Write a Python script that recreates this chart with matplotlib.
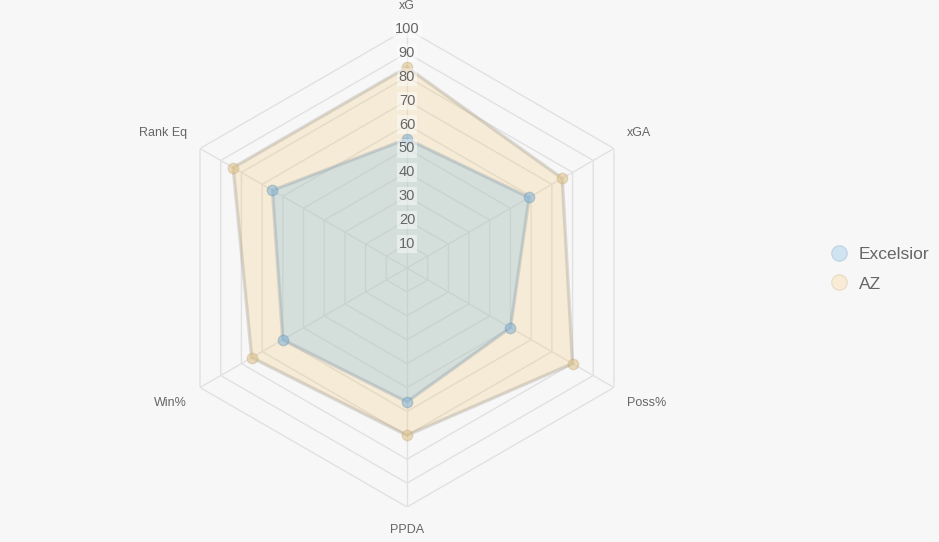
import numpy as np
import matplotlib.pyplot as plt
from matplotlib.lines import Line2D

plt.rcParams['font.family'] = ['Liberation Sans', 'DejaVu Sans']

categories = ['xG', 'xGA', 'Poss%', 'PPDA', 'Win%', 'Rank Eq']
excelsior = [54, 59, 50, 56, 60, 65]
az = [84, 75, 80, 70, 75, 84]
levels = [10, 20, 30, 40, 50, 60, 70, 80, 90, 100]

bg = '#f7f7f7'
grid_col = '#e1e1e1'
text_col = '#666666'

fig = plt.figure(figsize=(9.39, 5.42), dpi=100, facecolor=bg)
W, H = 939, 542
cx, cy, R = 407, 268, 239
ax = fig.add_axes([(cx - R) / W, (H - cy - R) / H, 2 * R / W, 2 * R / H],
                  projection='polar')
ax.set_facecolor('none')
ax.set_theta_offset(np.pi / 2)
ax.set_theta_direction(-1)
ax.set_ylim(0, 100)
ax.grid(False)
ax.spines['polar'].set_visible(False)
ax.set_xticks([])
ax.set_yticks([])

n = len(categories)
theta = np.linspace(0, 2 * np.pi, n, endpoint=False)
closed = np.append(theta, theta[0])

# hexagon grid and spokes
for lv in levels:
    ax.plot(closed, [lv] * (n + 1), color=grid_col, lw=1, zorder=1)
for t in theta:
    ax.plot([t, t], [0, 100], color=grid_col, lw=1, zorder=1)

# series
series = [
    ('AZ', az, (240/255, 200/255, 120/255, 0.25),
     (0.88, 0.76, 0.52, 0.55), (0.75, 0.65, 0.45, 0.35)),
    ('Excelsior', excelsior, (138/255, 198/255, 232/255, 0.30),
     (0.50, 0.70, 0.85, 0.55), (0.40, 0.55, 0.65, 0.35)),
]
for name, vals, fill, pt, pe in series:
    v = np.append(vals, vals[0])
    ax.fill(closed, v, color=fill, zorder=2)
    ax.plot(closed, v, color=(0.6, 0.6, 0.6, 0.3), lw=2.5, zorder=3)
    ax.plot(theta, vals, 'o', ms=7.5, mfc=pt, mec=pe, mew=1, zorder=4)

# tick labels
for lv in levels:
    ax.text(0, lv, str(lv), ha='center', va='center', fontsize=10.5,
            color=text_col, zorder=5,
            bbox=dict(boxstyle='square,pad=0.15', fc='white', ec='none', alpha=0.45))

# point labels
label_pos = [(0, 107, 'center', 'bottom'), (58.5, 108, 'left', 'center'),
             (121.5, 108, 'left', 'center'), (180, 107, 'center', 'top'),
             (238.5, 108, 'right', 'center'), (301.5, 108, 'right', 'center')]
for lab, (deg, r, ha, va) in zip(categories, label_pos):
    ax.text(np.deg2rad(deg), r, lab, ha=ha, va=va, fontsize=9, color=text_col)

# legend
handles = [
    Line2D([], [], marker='o', ls='none', ms=11, mfc='#cfe3f1', mec='#c2d6e4'),
    Line2D([], [], marker='o', ls='none', ms=11, mfc='#f8ecd6', mec='#eadfc8'),
]
fig.legend(handles, ['Excelsior', 'AZ'], loc='center left',
           bbox_to_anchor=(813 / W, 1 - 269 / H), frameon=False,
           fontsize=12.5, labelcolor=text_col, handletextpad=0.55,
           labelspacing=0.85, handlelength=1.2)

fig.savefig('out.png', dpi=100, facecolor=bg)
